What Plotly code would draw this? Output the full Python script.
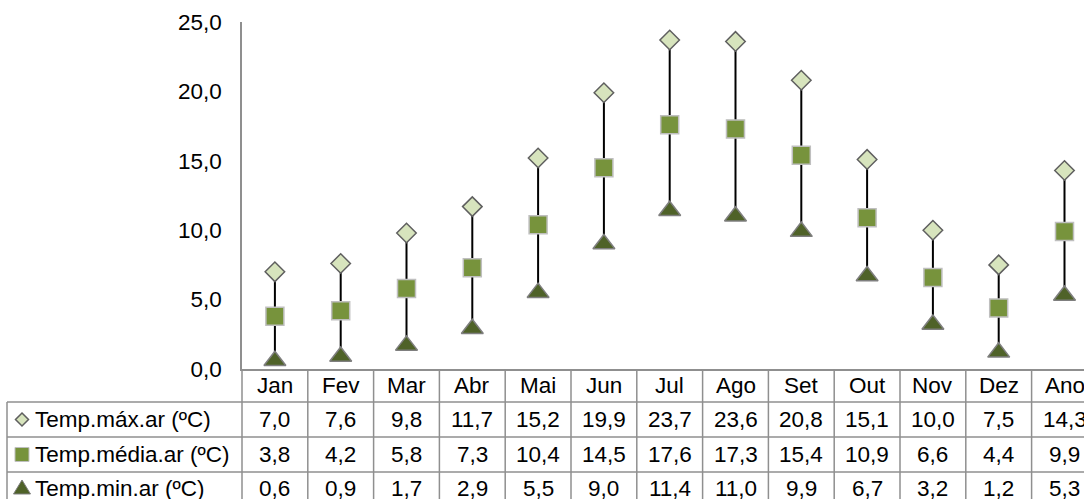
import plotly.graph_objects as go

# ---------------- data ----------------
categories = ["Jan", "Fev", "Mar", "Abr", "Mai", "Jun", "Jul", "Ago", "Set", "Out", "Nov", "Dez", "Ano"]
temp_max = [7.0, 7.6, 9.8, 11.7, 15.2, 19.9, 23.7, 23.6, 20.8, 15.1, 10.0, 7.5, 14.3]
temp_med = [3.8, 4.2, 5.8, 7.3, 10.4, 14.5, 17.6, 17.3, 15.4, 10.9, 6.6, 4.4, 9.9]
temp_min = [0.6, 0.9, 1.7, 2.9, 5.5, 9.0, 11.4, 11.0, 9.9, 6.7, 3.2, 1.2, 5.3]
series_names = ["Temp.máx.ar (ºC)", "Temp.média.ar (ºC)", "Temp.min.ar (ºC)"]
y_ticks = [0, 5, 10, 15, 20, 25]

# ---------------- layout geometry ----------------
W, H = 1084, 499
L, T, B = 242, 22, 130
plot_w = W - L
plot_h = H - T - B
col_w = 65.8
FONT = "Liberation Sans, Arial, sans-serif"
FS = 22.5
GRID = "#8f8f8f"


def py(p):  # pixel y (from top) -> paper y
    return (H - B - p) / plot_h


def pxp(p):  # pixel x -> paper x
    return (p - L) / plot_w


def fmt(v):
    return f"{v:.1f}".replace(".", ",")


def path(points):
    return "M " + " L ".join(f"{pxp(a):.5f},{py(b):.5f}" for a, b in points) + " Z"


C_MAX_FILL, C_MAX_LINE = "#d7e4bd", "#5f5f5f"
C_MED_FILL, C_MED_LINE = "#77933c", "#bfbfbf"
C_MIN_FILL, C_MIN_LINE = "#4f6228", "#7f7f7f"

fig = go.Figure()

# high-low lines built from the data
hl_x, hl_y = [], []
for c, lo, hi in zip(categories, temp_min, temp_max):
    hl_x += [c, c, None]
    hl_y += [lo, hi, None]
fig.add_trace(go.Scatter(x=hl_x, y=hl_y, mode="lines",
                         line=dict(color="black", width=2), showlegend=False,
                         hoverinfo="skip", cliponaxis=False))

fig.add_trace(go.Scatter(x=categories, y=temp_max, mode="markers", name=series_names[0],
                         marker=dict(symbol="diamond", size=15, color=C_MAX_FILL,
                                     line=dict(color=C_MAX_LINE, width=1.5)),
                         cliponaxis=False))
fig.add_trace(go.Scatter(x=categories, y=temp_med, mode="markers", name=series_names[1],
                         marker=dict(symbol="square", size=18, color=C_MED_FILL,
                                     line=dict(color=C_MED_LINE, width=1.5)),
                         cliponaxis=False))
fig.add_trace(go.Scatter(x=categories, y=temp_min, mode="markers", name=series_names[2],
                         marker=dict(symbol="triangle-up", size=19, color=C_MIN_FILL,
                                     line=dict(color=C_MIN_LINE, width=1.5)),
                         cliponaxis=False))

# ---------------- data table ----------------
row_lines = [402, 437, 472]
row_centers = [419.5, 454.5, 488]
header_center = 385.5
bottom = 515

shapes = []
# y-axis extension through the table
shapes.append(dict(type="line", xref="paper", yref="paper", x0=0, x1=0,
                   y0=py(369), y1=py(bottom), line=dict(color=GRID, width=1.5)))
# column separators
for i in range(len(categories)):
    shapes.append(dict(type="line", xref="x", yref="paper", x0=i + 0.5, x1=i + 0.5,
                       y0=0, y1=py(bottom), line=dict(color=GRID, width=1.5)))
# row lines
for r in row_lines:
    shapes.append(dict(type="line", xref="paper", yref="paper", x0=pxp(7), x1=1.05,
                       y0=py(r), y1=py(r), line=dict(color=GRID, width=1.5)))
# left edge of legend column
shapes.append(dict(type="line", xref="paper", yref="paper", x0=pxp(7), x1=pxp(7),
                   y0=py(row_lines[0]), y1=py(bottom), line=dict(color=GRID, width=1.5)))

# legend keys drawn as small paths in the row-label column
cx = 22
c0, c1, c2 = row_centers
shapes.append(dict(type="path", xref="paper", yref="paper",
                   path=path([(cx, c0 - 6.5), (cx + 6.5, c0), (cx, c0 + 6.5), (cx - 6.5, c0)]),
                   fillcolor=C_MAX_FILL, line=dict(color=C_MAX_LINE, width=1.5)))
shapes.append(dict(type="path", xref="paper", yref="paper",
                   path=path([(cx - 7, c1 - 7), (cx + 7, c1 - 7), (cx + 7, c1 + 7), (cx - 7, c1 + 7)]),
                   fillcolor=C_MED_FILL, line=dict(color=C_MED_LINE, width=1)))
shapes.append(dict(type="path", xref="paper", yref="paper",
                   path=path([(cx, c2 - 8), (cx + 8.5, c2 + 6), (cx - 8.5, c2 + 6)]),
                   fillcolor=C_MIN_FILL, line=dict(color=C_MIN_LINE, width=1)))

annotations = []
for i, c in enumerate(categories):
    annotations.append(dict(x=i, y=py(header_center), xref="x", yref="paper", text=c,
                            showarrow=False, xanchor="center", yanchor="middle",
                            font=dict(family=FONT, size=FS, color="black")))
for vals, yc in zip([temp_max, temp_med, temp_min], row_centers):
    for i, v in enumerate(vals):
        annotations.append(dict(x=i, y=py(yc), xref="x", yref="paper", text=fmt(v),
                                showarrow=False, xanchor="center", yanchor="middle",
                                font=dict(family=FONT, size=FS, color="black")))
# row labels
for name, yc in zip(series_names, row_centers):
    annotations.append(dict(x=pxp(33), y=py(yc), xref="paper", yref="paper", text=name,
                            showarrow=False, xanchor="left", yanchor="middle",
                            font=dict(family=FONT, size=FS, color="black")))

fig.update_layout(
    width=W, height=H,
    margin=dict(l=L, r=0, t=T, b=B, pad=0),
    paper_bgcolor="white", plot_bgcolor="white",
    showlegend=False,
    separators=",.",
    font=dict(family=FONT, size=FS, color="black"),
    shapes=shapes, annotations=annotations,
    xaxis=dict(type="category", categoryorder="array", categoryarray=categories,
               range=[-0.5, -0.5 + plot_w / col_w], showticklabels=False, ticks="",
               showgrid=False, zeroline=False, showline=True, linecolor=GRID, linewidth=1.5,
               fixedrange=True),
    yaxis=dict(range=[0, 25], tickvals=y_ticks, tickformat=".1f", ticks="",
               ticklabelstandoff=14, showgrid=False, zeroline=False,
               showline=True, linecolor=GRID, linewidth=1.5,
               tickfont=dict(family=FONT, size=FS, color="black"), fixedrange=True),
)

fig.write_html("out.html")
